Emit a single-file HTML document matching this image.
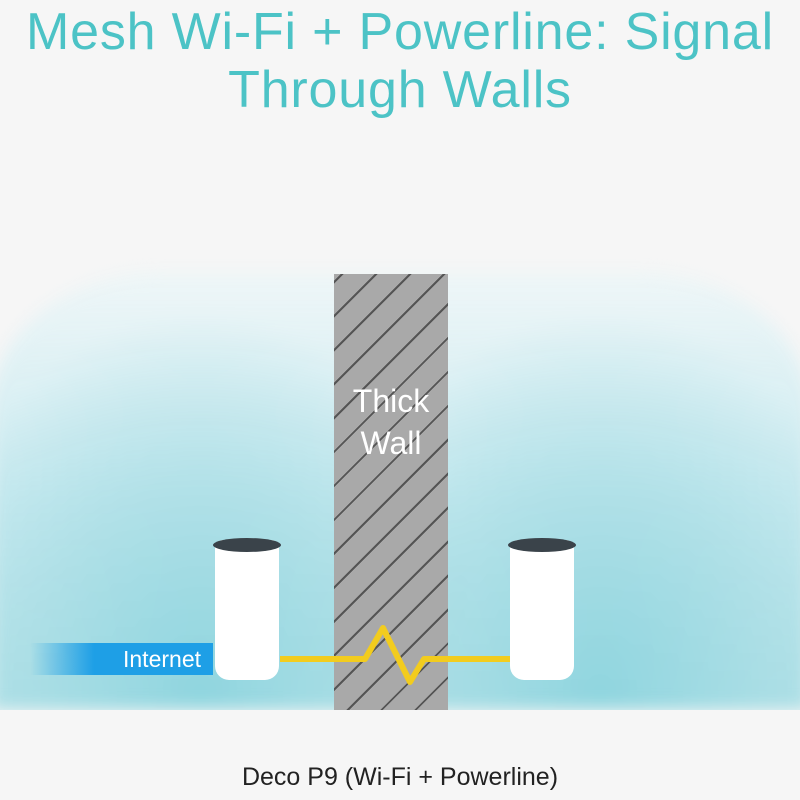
<!DOCTYPE html>
<html><head><style>
body{margin:0;width:800px;height:800px;background:#f6f6f6;position:relative;overflow:hidden;font-family:"Liberation Sans",sans-serif}
.t{position:absolute;left:0;width:800px;text-align:center;color:#4cc3c6;font-size:52px;line-height:58px;top:3px;letter-spacing:0.8px}
.glow{position:absolute;left:-10px;top:272px;width:820px;height:438px;border-radius:170px 170px 0 0/140px 140px 0 0;filter:blur(8px);
background:radial-gradient(ellipse 300px 380px at 210px 420px,rgba(140,212,222,.9) 0%,rgba(160,218,226,.6) 55%,rgba(160,218,226,0) 100%),
radial-gradient(ellipse 300px 380px at 610px 420px,rgba(140,212,222,.9) 0%,rgba(160,218,226,.6) 55%,rgba(160,218,226,0) 100%),
linear-gradient(180deg,rgba(235,246,248,.7) 0%,rgba(200,234,240,.9) 50%,#b5e2e8 100%)}
.base{position:absolute;left:0;top:710px;width:800px;height:90px;background:#f6f6f6}
.wall{position:absolute;left:334px;top:274px;width:114px;height:436px;background:repeating-linear-gradient(-45deg,#a9a9a9 0 22px,#555 22px 24px)}
.dev{position:absolute;top:540px;width:64px;height:140px;background:#fff;border-radius:8px 8px 14px 14px}
.dev::before{content:"";position:absolute;left:-2px;top:-2px;width:68px;height:14px;border-radius:50%;background:#3a434a}
.wt{position:absolute;left:334px;width:114px;text-align:center;color:#fff;font-size:32px;line-height:42px;top:380px}
.inet{position:absolute;left:30px;top:643px;width:183px;height:32px;background:linear-gradient(90deg,rgba(30,160,230,0),#1e9fe6 35%,#1e9fe6);color:#fff;font-size:23px;line-height:32px;text-align:right;padding-right:12px;box-sizing:border-box}
.b{position:absolute;left:0;width:800px;text-align:center;top:763px;font-size:25px;color:#222}
</style></head><body>
<div class="t">Mesh Wi-Fi + Powerline: Signal<br>Through Walls</div>
<div class="glow"></div>
<div class="base"></div>
<div class="wall"></div>
<div class="wt">Thick<br>Wall</div>
<svg style="position:absolute;left:0;top:0" width="800" height="800"><polyline points="280,659 365,659 383,628 410,682 424,659 510,659" fill="none" stroke="#f2cc1e" stroke-width="6" stroke-linejoin="round"/></svg>
<div class="inet">Internet</div>
<div class="dev" style="left:215px"></div>
<div class="dev" style="left:510px"></div>
<div class="b">Deco P9 (Wi-Fi + Powerline)</div>
</body></html>
